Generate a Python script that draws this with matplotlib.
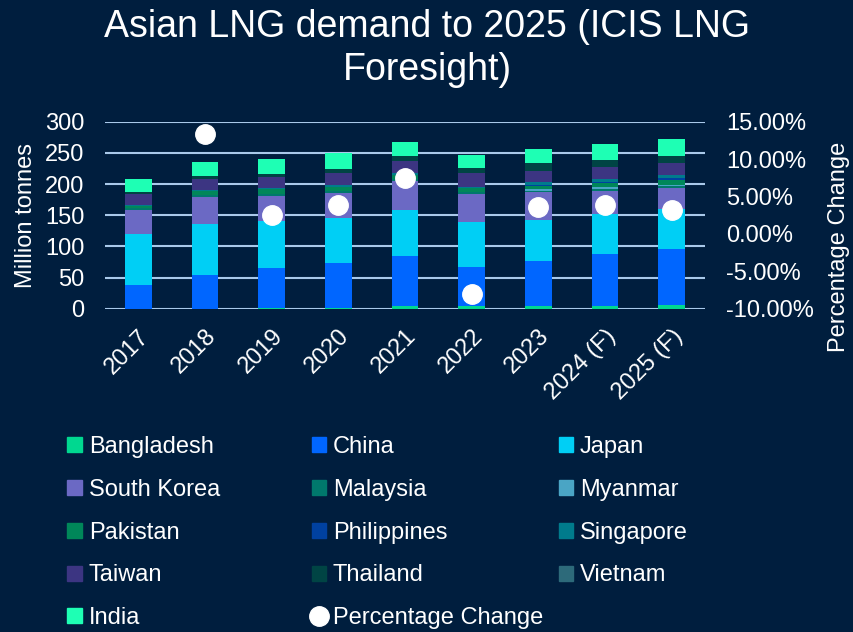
"""
Asian LNG demand to 2025 - stacked bars with percentage change dots.
"""

import matplotlib
matplotlib.use("Agg")
import matplotlib.patches as patches
import matplotlib.lines as mlines
import matplotlib.pyplot as plt
import numpy as np
from matplotlib.ticker import FuncFormatter

plt.rcParams["font.family"] = ["Liberation Sans", "DejaVu Sans"]

# --- data (million tonnes) ---
years = ["2017", "2018", "2019", "2020", "2021", "2022", "2023", "2024 (F)", "2025 (F)"]

bangladesh = [0, 0, 1, 1, 5, 4, 4, 5, 6.5]
china = [38.5, 54.5, 64, 72, 80, 63, 72.5, 83, 90]
japan = [82, 82, 75.5, 73, 74, 72, 66, 63.5, 63]
south_korea = [38.5, 43, 41, 40, 46, 45, 44, 37.5, 34.5]
malaysia = [2, 3, 3, 3, 3, 3, 3, 3, 3]
myanmar = [0, 0, 0, 0, 0, 0, 2, 2.5, 2]
pakistan = [4, 6, 7, 7, 6, 6, 6, 7, 8]
philippines = [0, 0, 0, 0, 0, 0, 1, 2, 3]
singapore = [2, 2, 2, 2.5, 3, 3, 4, 4, 4]
taiwan = [17, 17, 18, 19, 20, 21, 19, 20, 19]
thailand = [4, 5, 5, 6, 7.5, 8, 12, 10.5, 12]
vietnam = [0, 0, 0, 0, 0, 0, 0, 0, 0]
india = [20, 23, 24, 26, 23.5, 22, 22.5, 27, 28]

pct_change = [np.nan, 13.4, 2.5, 3.9, 7.5, -8.1, 3.6, 3.9, 3.2]

series = [
    ("Bangladesh", bangladesh, "#00d890"),
    ("China", china, "#0066ff"),
    ("Japan", japan, "#00cff5"),
    ("South Korea", south_korea, "#6b69c4"),
    ("Malaysia", malaysia, "#00786c"),
    ("Myanmar", myanmar, "#4aa5c5"),
    ("Pakistan", pakistan, "#008759"),
    ("Philippines", philippines, "#0041a0"),
    ("Singapore", singapore, "#007b8c"),
    ("Taiwan", taiwan, "#3c3582"),
    ("Thailand", thailand, "#004444"),
    ("Vietnam", vietnam, "#2d6a7a"),
    ("India", india, "#1effb4"),
]

BG = "#001e3e"
GRID = "#a9c9ea"
TXT = "white"
FS = 17

fig = plt.figure(figsize=(8.54, 6.32), dpi=100, facecolor=BG)
ax = fig.add_axes([0.123, 0.5116, 0.7025, 0.2958])
ax.set_facecolor(BG)

x = np.arange(len(years))
bottom = np.zeros(len(years))
for name, vals, color in series:
    vals = np.array(vals, dtype=float)
    ax.bar(x, vals, width=0.4, bottom=bottom, color=color, label=name, zorder=2)
    bottom += vals

ax.set_ylim(0, 300)
ax.set_yticks(range(0, 301, 50))
ax.set_xlim(-0.5, len(years) - 0.5)
ax.set_xticks(x)
ax.set_xticklabels(years, rotation=45, ha="right", rotation_mode="anchor")
ax.grid(axis="y", color=GRID, linewidth=1.5, zorder=0)
ax.set_axisbelow(True)
for s in ax.spines.values():
    s.set_visible(False)
ax.tick_params(axis="y", colors=TXT, labelsize=FS, length=0, pad=15)
ax.tick_params(axis="x", colors=TXT, labelsize=FS, length=0, pad=12)
ax.set_ylabel("Million tonnes", color=TXT, fontsize=FS, labelpad=6)

# secondary axis: percentage change
ax2 = ax.twinx()
ax2.set_ylim(-10, 15)
ax2.set_yticks(range(-10, 16, 5))
ax2.yaxis.set_major_formatter(FuncFormatter(lambda v, _: f"{v:.2f}%"))
for s in ax2.spines.values():
    s.set_visible(False)
ax2.tick_params(axis="y", colors=TXT, labelsize=FS, length=0, pad=15)
ax2.plot(x, pct_change, linestyle="none", marker="o", markersize=14,
         color="white", zorder=5)
fig.text(0.982, 0.609, "Percentage Change", rotation=90, color=TXT,
         fontsize=FS, ha="center", va="center")

fig.suptitle("Asian LNG demand to 2025 (ICIS LNG\nForesight)", color=TXT,
             fontsize=27, y=0.986, linespacing=1.25)

# legend laid out in three fixed columns
handles = [patches.Patch(color=c, label=n) for n, _, c in series]
dot = mlines.Line2D([], [], linestyle="none", marker="o", markersize=14,
                    color="white", label="Percentage Change")
handles.append(dot)
columns = [handles[0::3], handles[1::3], handles[2::3]]
col_x = [0.079, 0.365, 0.654]
for hs, cx in zip(columns, col_x):
    fig.legend(handles=hs, loc="upper left", bbox_to_anchor=(cx, 0.31),
               frameon=False, fontsize=FS, labelcolor=TXT,
               handlelength=0.6, handleheight=0.6, handletextpad=0.3,
               labelspacing=0.88, borderpad=0, borderaxespad=0)

fig.savefig("out.png", dpi=100, facecolor=BG)
